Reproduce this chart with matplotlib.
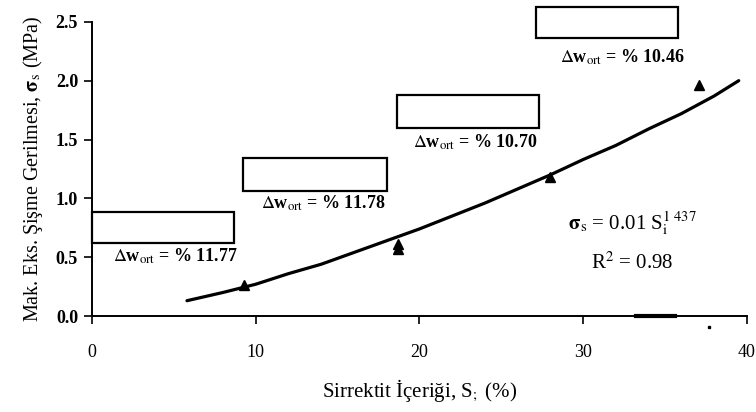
import numpy as np
import matplotlib
matplotlib.use('Agg')
import matplotlib.pyplot as plt
from matplotlib.patches import Rectangle

plt.rcParams['font.family'] = ['Liberation Serif', 'DejaVu Serif']
plt.rcParams['mathtext.fontset'] = 'stix'

# measured points (triangles)
S_i = [9.3, 18.7, 18.7, 28.0, 37.1]
sigma_s = [0.26, 0.61, 0.57, 1.18, 1.96]

# fitted curve
fit_x = [5.8, 8, 10, 12, 14, 16, 18, 20, 22, 24, 26, 28, 30, 32, 34, 36, 38, 39.5]
fit_y = [0.13, 0.20, 0.27, 0.36, 0.44, 0.54, 0.64, 0.74, 0.85, 0.96, 1.08, 1.20,
         1.33, 1.45, 1.59, 1.72, 1.87, 2.00]

# empty label boxes (x0, y0, width, height) and their captions
box_x = [0.0, 9.2, 18.6, 27.1]
box_y = [0.62, 1.06, 1.60, 2.36]
box_w = [8.66, 8.8, 8.7, 8.7]
box_h = [0.26, 0.28, 0.28, 0.27]
labels = ['11.77', '11.78', '10.70', '10.46']
label_x = [5.1, 14.1, 23.4, 32.4]
label_y = [0.51, 0.96, 1.48, 2.20]

fig = plt.figure(figsize=(7.56, 4.12), dpi=100)
ax = fig.add_axes([0.1217, 0.233, 0.8663, 0.714])

ax.plot(fit_x, fit_y, color='black', lw=2.3, solid_capstyle='round', solid_joinstyle='round')
ax.plot(S_i, sigma_s, '^', color='black', ms=6.5)

for x0, y0, w, h in zip(box_x, box_y, box_w, box_h):
    ax.add_patch(Rectangle((x0, y0), w, h, fill=False, ec='black', lw=1.6, clip_on=False))

for lx, ly, lab in zip(label_x, label_y, labels):
    ax.text(lx, ly, r'$\Delta$w$_{\mathrm{ort}}$ = % ' + lab, ha='center', va='center',
            fontsize=13, fontweight='bold')

ax.text(33.0, 0.79, r'$\mathbf{\sigma}_\mathrm{s}$ = 0.01 S$_\mathrm{i}^{1\ 437}$', ha='center', va='center', fontsize=15)
ax.text(33.0, 0.45, r'R$^2$ = 0.98', ha='center', va='center', fontsize=15)

# scan artifacts on the axis
ax.plot([33.2, 35.6], [0.0, 0.0], color='black', lw=3, clip_on=False)
ax.plot([37.7], [-0.09], 's', color='black', ms=2, clip_on=False)

ax.set_xlim(0, 40)
ax.set_ylim(0, 2.5)
ax.set_xticks([0, 10, 20, 30, 40])
ax.set_yticks([0.0, 0.5, 1.0, 1.5, 2.0, 2.5])
ax.set_yticklabels(['0.0', '0.5', '1.0', '1.5', '2.0', '2.5'], fontweight='bold')
ax.tick_params(axis='x', direction='out', length=6, width=1.2, labelsize=13, pad=14)
ax.tick_params(axis='y', direction='out', length=6, width=1.2, labelsize=13, pad=4)
ax.spines['top'].set_visible(False)
ax.spines['right'].set_visible(False)
ax.spines['left'].set_linewidth(1.4)
ax.spines['bottom'].set_linewidth(1.4)

ax.set_xlabel(r'Sirrektit İçeriği, S$_\mathrm{;}$ (%)', fontsize=15, labelpad=12)
ax.set_ylabel(r'Mak. Eks. Şişme Gerilmesi, $\mathbf{\sigma}_\mathrm{s}$ (MPa)', fontsize=14.5, labelpad=8)

fig.savefig('out.png', dpi=100)
